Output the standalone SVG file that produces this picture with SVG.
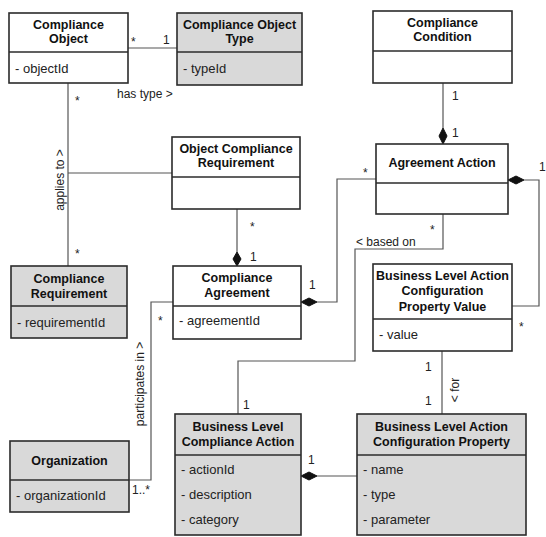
<svg xmlns="http://www.w3.org/2000/svg" width="546" height="537" viewBox="0 0 546 537">
  <style>
    .box { fill: #ffffff; stroke: #2b2b2b; stroke-width: 1.6; }
    .grey { fill: #d9d9d9; }
    .div { stroke: #2b2b2b; stroke-width: 1.6; }
    .title { font-family: "Liberation Sans", Arial, sans-serif; font-size: 12.5px; font-weight: bold; fill: #111; text-anchor: middle; }
    .attr { font-family: "Liberation Sans", Arial, sans-serif; font-size: 13px; fill: #222; }
    .lbl { font-family: "Liberation Sans", Arial, sans-serif; font-size: 12px; fill: #222; }
    .conn { fill: none; stroke: #555; stroke-width: 1.2; }
    .dia { fill: #111; stroke: #111; stroke-width: 1; }
  </style>
  <rect width="546" height="537" fill="#ffffff"/>

  <!-- connectors -->
  <g id="connectors">
    <path class="conn" d="M128,48 H177"/>
    <path class="conn" d="M68,83 V266"/>
    <path class="conn" d="M68,173 H172"/>
    <path class="conn" d="M237,209 V252"/>
    <polygon class="dia" points="237,252 241,259 237,266 233,259"/>
    <path class="conn" d="M317,302 H337 V179 H376"/>
    <polygon class="dia" points="301,302 309,298 317,302 309,306"/>
    <path class="conn" d="M443,83 V128"/>
    <polygon class="dia" points="443,128 447,136 443,144 439,136"/>
    <path class="conn" d="M524,180 H539 V306 H512"/>
    <polygon class="dia" points="508,180 516,176 524,180 516,184"/>
    <path class="conn" d="M443,214 V249 H355 V361 H238 V414"/>
    <path class="conn" d="M442,351 V414"/>
    <path class="conn" d="M317,476 H357"/>
    <polygon class="dia" points="301,476 309,472 317,476 309,480"/>
    <path class="conn" d="M129,480 H151 V302 H173"/>

    <!-- multiplicities and role labels -->
    <text class="lbl" x="131" y="46">*</text>
    <text class="lbl" x="163" y="44">1</text>
    <text class="lbl" x="117" y="98">has type &gt;</text>
    <text class="lbl" x="75" y="105">*</text>
    <text class="lbl" transform="translate(64,180) rotate(-90)" text-anchor="middle">applies to &gt;</text>
    <text class="lbl" x="75" y="258">*</text>
    <text class="lbl" x="250" y="231">*</text>
    <text class="lbl" x="250" y="261">1</text>
    <text class="lbl" x="309" y="289">1</text>
    <text class="lbl" x="158" y="325">*</text>
    <text class="lbl" transform="translate(144,384) rotate(-90)" text-anchor="middle">participates in &gt;</text>
    <text class="lbl" x="132" y="494">1..*</text>
    <text class="lbl" x="363" y="177">*</text>
    <text class="lbl" x="452" y="100">1</text>
    <text class="lbl" x="452" y="137">1</text>
    <text class="lbl" x="539" y="171">1</text>
    <text class="lbl" x="430" y="234">*</text>
    <text class="lbl" x="356" y="246">&lt; based on</text>
    <text class="lbl" x="519" y="331">*</text>
    <text class="lbl" x="425" y="371">1</text>
    <text class="lbl" x="425" y="405">1</text>
    <text class="lbl" transform="translate(459,390) rotate(-90)" text-anchor="middle">&lt; for</text>
    <text class="lbl" x="243" y="409">1</text>
    <text class="lbl" x="308" y="464">1</text>
  </g>

  <g id="compliance-object">
    <rect class="box" x="9" y="13" width="119" height="70"/>
    <line class="div" x1="9" y1="52" x2="128" y2="52"/>
    <text class="title" x="68.5" y="29">Compliance</text>
    <text class="title" x="68.5" y="43">Object</text>
    <text class="attr" x="15" y="73">- objectId</text>
  </g>

  <g id="compliance-object-type">
    <rect class="box grey" x="177" y="13" width="125" height="72"/>
    <line class="div" x1="177" y1="52" x2="302" y2="52"/>
    <text class="title" x="239.5" y="29">Compliance Object</text>
    <text class="title" x="239.5" y="43">Type</text>
    <text class="attr" x="183" y="73">- typeId</text>
  </g>

  <g id="compliance-condition">
    <rect class="box" x="373" y="11" width="139" height="72"/>
    <line class="div" x1="373" y1="51" x2="512" y2="51"/>
    <text class="title" x="442.5" y="27">Compliance</text>
    <text class="title" x="442.5" y="41">Condition</text>
  </g>

  <g id="object-compliance-requirement">
    <rect class="box" x="172" y="137" width="128" height="72"/>
    <line class="div" x1="172" y1="177" x2="300" y2="177"/>
    <text class="title" x="236" y="153">Object Compliance</text>
    <text class="title" x="236" y="167">Requirement</text>
  </g>

  <g id="agreement-action">
    <rect class="box" x="376" y="144" width="132" height="70"/>
    <line class="div" x1="376" y1="183" x2="508" y2="183"/>
    <text class="title" x="442" y="167">Agreement Action</text>
  </g>

  <g id="compliance-requirement">
    <rect class="box grey" x="11" y="266" width="116" height="72"/>
    <line class="div" x1="11" y1="306" x2="127" y2="306"/>
    <text class="title" x="69" y="283">Compliance</text>
    <text class="title" x="69" y="298">Requirement</text>
    <text class="attr" x="17" y="327">- requirementId</text>
  </g>

  <g id="compliance-agreement">
    <rect class="box" x="173" y="266" width="128" height="73"/>
    <line class="div" x1="173" y1="306" x2="301" y2="306"/>
    <text class="title" x="237" y="282">Compliance</text>
    <text class="title" x="237" y="297">Agreement</text>
    <text class="attr" x="179" y="325">- agreementId</text>
  </g>

  <g id="business-level-action-configuration-property-value">
    <rect class="box" x="373" y="264" width="139" height="87"/>
    <line class="div" x1="373" y1="319" x2="512" y2="319"/>
    <text class="title" x="442.5" y="280">Business Level Action</text>
    <text class="title" x="442.5" y="295">Configuration</text>
    <text class="title" x="442.5" y="311">Property Value</text>
    <text class="attr" x="379" y="339">- value</text>
  </g>

  <g id="organization">
    <rect class="box grey" x="10" y="441" width="119" height="71"/>
    <line class="div" x1="10" y1="480" x2="129" y2="480"/>
    <text class="title" x="69.5" y="465">Organization</text>
    <text class="attr" x="16" y="500">- organizationId</text>
  </g>

  <g id="business-level-compliance-action">
    <rect class="box grey" x="175" y="414" width="126" height="121"/>
    <line class="div" x1="175" y1="455" x2="301" y2="455"/>
    <text class="title" x="238" y="431">Business Level</text>
    <text class="title" x="238" y="446">Compliance Action</text>
    <text class="attr" x="181" y="474">- actionId</text>
    <text class="attr" x="181" y="499">- description</text>
    <text class="attr" x="181" y="524">- category</text>
  </g>

  <g id="business-level-action-configuration-property">
    <rect class="box grey" x="357" y="414" width="169" height="121"/>
    <line class="div" x1="357" y1="455" x2="526" y2="455"/>
    <text class="title" x="441.5" y="431">Business Level Action</text>
    <text class="title" x="441.5" y="446">Configuration Property</text>
    <text class="attr" x="363" y="474">- name</text>
    <text class="attr" x="363" y="499">- type</text>
    <text class="attr" x="363" y="524">- parameter</text>
  </g>
</svg>
